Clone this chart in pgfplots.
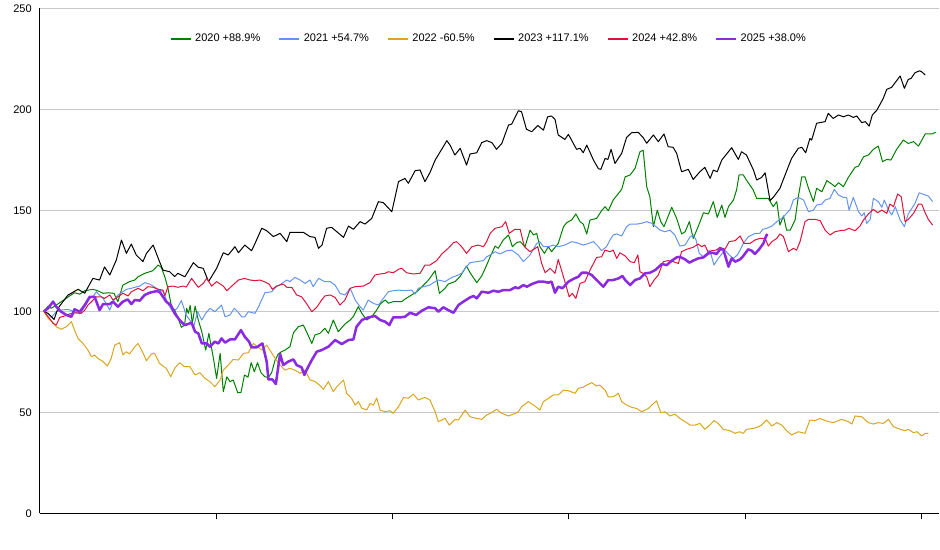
\documentclass[border=0pt]{standalone}
\usepackage{pgfplots}
\pgfplotsset{compat=1.18}
\usepackage{fontspec}
\setmainfont{Liberation Sans}
\definecolor{cA}{RGB}{0,128,0}
\definecolor{cB}{RGB}{100,149,237}
\definecolor{cC}{RGB}{218,165,32}
\definecolor{cD}{RGB}{0,0,0}
\definecolor{cE}{RGB}{220,20,60}
\definecolor{cF}{RGB}{138,43,226}
\definecolor{gridc}{RGB}{200,200,200}
\begin{document}
\begin{tikzpicture}
\useasboundingbox (-30pt,-27.5pt) rectangle (675pt,385pt);
\begin{axis}[
  at={(0,0)}, anchor=south west,
  scale only axis, width=674.2pt, height=378.75pt,
  xmin=0, xmax=255, ymin=0, ymax=250,
  axis x line*=bottom, axis y line*=left,
  axis line style={black, line width=0.75pt, -},
  xtick={50,100,150,200,250}, xticklabels={},
  ytick={0,50,100,150,200,250},
  tick align=outside, major tick length=4.5pt,
  xtick style={black, line width=0.75pt},
  ytick style={draw=none},
  ymajorgrids, grid style={gridc, line width=0.75pt},
  font=\fontsize{8.25pt}{10pt}\selectfont,
  /pgf/number format/assume math mode=true,
  yticklabel style={inner xsep=1.5pt},
  legend columns=6,
  legend style={draw=none, fill=none, at={(0.5,0.94)}, anchor=center,
    font=\fontsize{8.25pt}{10pt}\selectfont,
    /tikz/every even column/.append style={column sep=11pt},
    nodes={inner xsep=2.5pt}},
  legend image code/.code={\draw[#1, line width=1.6pt] (0pt,0pt) -- (15pt,0pt);},
  every axis plot/.append style={no markers, line join=round},
]
\addplot[cA, line width=0.75pt] coordinates {
(1.1,100) (2.3,102.6) (3.2,101.5) (4.6,103.1) (6.5,105.3) (8.4,107.6) (9.8,109.2) (11.3,108.5) (12.7,110.2) (15,110.9) (16.4,110.2) (17.9,108.9) (19.3,109.2) (21,108.9) (22.1,104.8) (23.5,113) (25.4,114.7) (26.9,115.5) (27.8,117.1) (29.7,118.8) (32,120.1) (33.5,122.9) (34.4,121.8) (35.4,117.1) (36.3,111.4) (37.3,102.3) (38.2,100.6) (39.1,97) (40.1,92.1) (41,93.2) (41.6,101.5) (42.1,99) (42.6,103) (43.2,94) (44,102.6) (44.9,95.7) (45.9,89.9) (47,80.8) (47.9,89.1) (49.2,76.7) (50.1,66.8) (51.1,79.2) (52,60.2) (53,67.6) (53.9,65.2) (54.8,66) (56.1,59.7) (57,59.7) (58,68.5) (59,67.4) (59.9,74.6) (60.8,70.1) (61.7,74.6) (62.7,69.6) (63.8,67.6) (64.8,67.3) (65.7,69.6) (66.7,75.9) (67.6,78.9) (68.5,80) (69.5,80.8) (70.9,82.5) (71.9,89.4) (73.3,92.4) (74.7,93.2) (75.6,89.9) (77.1,84.1) (78,88.3) (79.4,89.1) (80.8,91.6) (81.8,89.1) (83.2,95.7) (84.6,89.9) (86.5,93.7) (88,95.7) (88.9,97.5) (90.3,102.3) (91.3,99) (92.7,95.7) (94.1,97.3) (95.5,100.6) (96.5,103.6) (97.9,105.6) (98.8,104) (100.2,104.8) (102.6,104.8) (103.5,106) (105.4,108.1) (106.9,109.7) (108.8,113) (110.2,115.5) (112.1,120.1) (113.3,108.9) (114.9,111.4) (115.8,113.5) (117.7,114.7) (119.2,117.3) (121,122.4) (122,119.1) (123.9,114.2) (125.3,117.5) (126.7,122.9) (127.7,127) (129.1,132.3) (130,131.2) (131.4,135.3) (132.9,137.8) (134,132) (135.2,134) (136.2,134.5) (137.6,132) (139,140.2) (140,137.8) (140.9,138.6) (141.8,132) (143.1,128.7) (144.2,132) (145.1,129.5) (147,133.6) (148.5,141.9) (149.4,143.9) (150.8,145.2) (152,148.2) (153.2,144.4) (154.1,143.2) (155.1,138.3) (156,145.2) (157.9,146) (159.3,149.8) (160.3,151.8) (161.2,149.8) (162.6,155.1) (165,160.4) (166,166.6) (167.4,167.5) (168.8,170.8) (170.2,179) (171.1,179.8) (172.1,161.7) (173,156.7) (174,141.9) (175.1,150.1) (176.1,144.4) (177,141.9) (179.2,151.5) (180.6,146) (182,138.3) (183,139.4) (184.2,144.4) (185.3,136.1) (186.7,141.9) (188.2,148.8) (189.6,148.2) (191,154.3) (192.1,146.5) (193.4,152.6) (194.3,146.5) (195.3,151.8) (196.7,155.1) (197.6,160.1) (198.3,167.5) (199.5,167.5) (200.4,165) (202.3,160.1) (203.3,155.9) (204.7,155.9) (206.6,155.9) (208,151.8) (209,154.3) (209.9,142.7) (210.9,147.2) (211.8,140.2) (212.8,140.2) (214.2,145.2) (215.1,156.7) (216.1,166.6) (217,166.6) (218,160.9) (219.4,154.3) (220.3,160.9) (221.8,159.2) (223.2,164.7) (224.6,163) (225.5,161.7) (226.5,163.7) (227.9,161.7) (229.3,166.3) (231.2,171.3) (232.2,171.9) (233.6,176.5) (235,177.4) (236.4,180.2) (237.8,181.8) (239,174.1) (240.2,175.2) (241.4,174.9) (243,180.2) (244.9,184.8) (246.3,183.1) (247.8,184) (249.2,181.8) (251.1,187.8) (253,187.8) (254.1,188.6)
};
\addlegendentry{2020 +88.9\%}
\addplot[cB, line width=0.75pt] coordinates {
(1.1,100) (2.3,98.7) (3.2,97) (4.6,99.8) (6,100.6) (7.9,101) (9.8,99.8) (11.3,98.7) (12.7,102.3) (14.1,106.4) (15,107.2) (16,109.7) (16.9,108) (17.9,106.4) (19.8,100.6) (20.7,104.8) (22.1,108.1) (23.5,109.7) (24.5,110.9) (25.9,111.4) (26.9,111.9) (28.3,112.5) (29.7,114.2) (31.1,113.5) (32.1,112.5) (33.5,110.9) (35,109.7) (36.3,103.6) (37.7,99.8) (38.9,101.5) (40.1,105.3) (41.5,98) (42.5,95.7) (43.5,91.6) (44.7,99.8) (45.9,95.7) (47,99) (48.2,101.5) (49.6,99.8) (51.5,103.1) (52.5,97.3) (53.9,98.2) (55.1,101.5) (56.1,99.8) (57.2,97.3) (58.1,97.3) (59.1,99.8) (61,99) (62,102.3) (63.8,109.2) (65.7,109.7) (67.1,112.2) (68.6,113.8) (70,115.5) (70.9,114.7) (72.3,116.8) (73.8,115.5) (75.2,113.8) (76.6,115.5) (77.5,112.2) (79,116.3) (80.8,114.7) (82.3,114.7) (83.7,113) (85.1,108.9) (86.5,108.1) (88,111.4) (89.4,105.6) (90.8,102.3) (91.7,100.6) (93.1,105.6) (94.6,103.9) (96,103.1) (97.4,106.4) (98.8,109.7) (100.2,110.2) (101.7,110.5) (103.5,110.2) (105.4,110.5) (106.4,108.5) (107.3,111.4) (108.8,112.2) (110.6,113) (111.6,114.2) (113,115.5) (114.9,114.7) (116.3,116.3) (117.3,117.1) (118.7,118) (119.6,118.8) (121,122.1) (122,124.1) (123.9,124.6) (125.8,125.1) (126.7,127) (127.7,127.9) (129.1,129.5) (130.5,128.4) (132.4,130) (133.8,130.3) (135.7,127.9) (137.1,124.6) (139,127.9) (140.9,133.6) (141.8,134.5) (142.8,132) (144.2,132) (145.6,132.8) (147,132) (148.9,132.8) (150.8,134.5) (152.2,134) (154.1,132.8) (155.6,133.6) (157,134.5) (158.4,132) (159.3,130) (160.7,132) (161.7,135.3) (162.6,137.8) (163.6,138.3) (165,137.3) (166.4,141.9) (167.4,143.2) (169.3,143.2) (170.7,143.6) (172.1,144.4) (173.5,143.6) (174.5,142.2) (175.9,140.2) (177.3,139.4) (178.7,140.2) (180.1,137.8) (181.5,132.3) (183,132.8) (184.4,136.9) (185.3,137.8) (186.1,135.3) (187,128.7) (188.2,127) (189.1,128.7) (190,130.3) (191.2,122.9) (192.4,126.2) (194.3,130.3) (195.5,127.9) (196.7,126.2) (197.8,127.9) (198.6,130.3) (199.5,133.6) (200.9,136.9) (202.8,138.6) (204.2,138.6) (205,140.6) (206.1,141.1) (207.6,142.2) (209,144.4) (210.4,146) (211.8,148.5) (212.8,150.5) (213.7,155.1) (215.1,156.4) (216.6,155.1) (218,149.3) (219.4,150.1) (220.3,152.6) (221.8,153.1) (222.7,155.1) (224.1,155.9) (225.3,160.4) (226.5,157.6) (227.9,156.4) (228.8,156.4) (229.5,150.1) (230.7,156.4) (232.2,149.3) (233.1,147.2) (233.8,148.8) (234.5,143.5) (235.5,145.5) (236.4,155.9) (237.8,154.3) (238.8,151.5) (239.5,155.1) (240.7,150.1) (241.6,147.7) (242.6,151.8) (244,145.2) (245.2,141.9) (246.3,148.2) (248.2,153.4) (249.4,158.7) (251.1,157.6) (252,157.1) (253.2,154.3)
};
\addlegendentry{2021 +54.7\%}
\addplot[cC, line width=0.75pt] coordinates {
(1.1,100) (2.3,96.5) (3.4,94.9) (4.6,92.4) (6,91.1) (7.5,92.4) (8.9,94.9) (9.8,90.7) (10.8,86.6) (12.2,84.1) (13.6,80.8) (14.6,77.5) (15.5,78.4) (16.4,76.7) (17.9,75.1) (19.1,72.9) (20.2,76.7) (21.2,83.3) (22.6,84.5) (23.5,78.4) (24.5,80) (25.4,78.9) (26.9,82.5) (27.8,84.1) (29.2,79.5) (30.2,75.5) (31.6,78.9) (32.5,79.2) (33.9,74.2) (35.8,71.8) (37.1,67.6) (38.2,71.8) (39.6,74.6) (41,72.6) (42.5,72.6) (44,68.5) (45.4,69.6) (46.8,66.8) (48.2,65.2) (49.6,62.7) (51.1,66) (52,70.9) (53.4,73.4) (54.8,76.2) (56.3,75.9) (57.7,79.2) (59.1,79.5) (60.5,84.1) (61.5,82.8) (62.9,80.8) (64.3,83.3) (65.5,80) (66.7,76.7) (68.1,73.4) (69.5,70.9) (70.9,71.8) (72.3,70.9) (73.8,69.3) (75.2,70.9) (76.6,66) (78,65.3) (79.4,63.3) (80.4,61.4) (81.8,65.2) (83.2,60.2) (84.2,62.7) (86.1,66) (87,59.4) (88.4,56.9) (89.4,53.6) (90.3,55.3) (91.3,52) (92.7,51.2) (93.6,54.4) (94.6,53.6) (95.5,57.1) (96.5,51.1) (97.9,50.3) (99.3,50.8) (100.2,49.5) (101.7,52.8) (103.1,57.3) (104.5,57) (105.9,59) (107.3,56.1) (109.2,57.4) (110.6,56.1) (112.1,50.3) (113,45.4) (114.9,47) (116.1,43.7) (117.7,46.5) (118.7,46.2) (120.6,51.1) (122,47.8) (123.9,47) (125.3,46.5) (126.7,48.7) (127.7,49.5) (129.5,51.5) (131,49.5) (132.9,48.2) (134.8,49.5) (135.7,50.3) (136.6,52.8) (138.5,55.3) (140.4,53.1) (141.8,51.1) (142.8,55.3) (144.2,56.9) (145.6,58.6) (147,58.6) (148.5,61) (149.9,60.7) (151.8,59.4) (152.7,61.9) (154.1,62.4) (155.1,63.5) (156.5,64.7) (157.9,63) (158.8,63.5) (160.3,61) (161.2,57.7) (162.6,57.7) (164.1,59.4) (165,55.3) (166.4,53.6) (167.8,52.5) (169.3,51.9) (170.7,50.3) (171.6,51.1) (172.6,51.9) (173.5,53.6) (174.9,55.7) (176.1,49.8) (177.3,50.3) (178.7,48.2) (180.1,49.1) (181.5,47) (183,45.4) (184.4,43.7) (185.8,43.7) (187.2,44.5) (188.6,41.6) (190,43.7) (191.2,45.9) (192.4,44.5) (193.8,41.6) (195.7,40.9) (197.2,39.6) (198.4,40.4) (199.5,39.6) (200.4,41.6) (202.3,42) (203.7,42.8) (204.7,43.7) (206.1,46.2) (207.6,43.2) (209,44.9) (210.4,43.7) (211.8,40.9) (213.2,38.8) (215.1,40.4) (217,39.6) (218.4,46.2) (219.9,45.9) (221.3,47) (222.7,45.9) (225,44.9) (227.4,46.5) (229.3,45.4) (230.3,44.2) (231.2,48.2) (233.1,47.8) (235,44.9) (236.4,44.2) (237.8,44.9) (239.2,44.5) (240.7,46.5) (242.1,42.9) (244,41.6) (245.4,40.9) (246.3,41.6) (247.8,39.9) (248.8,40.4) (250.1,38.3) (251.1,39.6) (252,39.6)
};
\addlegendentry{2022 -60.5\%}
\addplot[cD, line width=0.75pt] coordinates {
(1.1,100) (2.3,99) (4,96) (5.1,101.5) (7.9,108) (10.8,110.9) (12.7,109) (15,116.3) (16.9,115.5) (18.3,122) (19.8,118) (21.65,125.4) (23.1,135.3) (24.5,128.7) (25.9,133.3) (27.3,127.9) (29.2,124.6) (30.2,128.7) (32.1,132.8) (33.9,124.6) (34.9,120.4) (36.8,119.6) (38.2,117.2) (39.1,118.8) (41.1,117.1) (43.5,124.1) (44.9,121.8) (46.3,121.3) (47.8,114.7) (50.1,121.3) (52,129) (53.4,127.9) (55.3,132) (56.3,129) (58.1,132.8) (60,130) (61,133.6) (62.9,141.1) (64.3,139.9) (66.2,137) (68.1,138.6) (70,134.5) (70.9,139.1) (74.7,139.1) (76.6,137) (78,136.6) (79,131.2) (80,132.8) (81.3,141.1) (82.7,141.6) (84.2,139.4) (86.1,136.6) (87.5,142.2) (88.9,140.6) (90.8,144.4) (92.2,143.2) (94.1,146) (96,154.3) (97.4,153.8) (99.8,149.3) (101.7,164.2) (103.5,165.8) (104.5,163.4) (106.4,169.6) (107.8,170) (109.2,164.2) (110.6,168.6) (112.1,174.9) (114.4,181.5) (115.4,184.5) (116.3,182.3) (117.7,177.4) (119.2,180.7) (121,172.4) (122,177.9) (123.9,178.5) (125.3,183.5) (126.7,184.5) (128.2,183.5) (129.5,180.2) (131,183.1) (132.9,192.2) (133.8,192.7) (135.7,199.3) (136.6,198.8) (138,190.1) (139.5,188.9) (141.2,192) (142.8,189.7) (144,196.3) (145.1,196.7) (146.1,195) (147,187.3) (148.9,185.1) (149.9,187.6) (152.2,180.2) (153.2,180.7) (154.1,178.5) (155.1,182.3) (157,174.9) (158.4,170.6) (159.1,170.3) (160.3,175.7) (161.1,175.2) (162,180.2) (163.1,173.2) (165,178.2) (166.4,186.1) (167.8,188.4) (169.7,188.6) (171.1,186) (172.1,183.2) (174,187.3) (175.4,184) (177,187.8) (178.2,181.5) (179.6,181.2) (180.6,178.2) (182,169.1) (183.9,170.3) (185.3,165.3) (187.2,169.1) (188.6,171.3) (190.1,165.8) (191,169.9) (192.1,169.1) (193.4,174.9) (196.2,181) (198.1,175.2) (199,179) (200.4,177.4) (202.4,169.9) (203.3,165) (204.7,166.3) (205.7,168.6) (207.1,154.8) (208,156.4) (209.9,160.9) (211.8,169.5) (213.2,175.7) (215.1,180.7) (216.1,181.2) (217.2,178.5) (218.4,185.6) (218.9,184.8) (220.3,193.1) (222.7,193.9) (223.6,198) (225,195.5) (226.5,197.2) (227.9,196.3) (229.3,197.2) (230.7,196) (231.7,196.7) (233.1,193.4) (234.1,193.9) (235.2,191.7) (236.1,197.2) (237.4,199.6) (239.2,205.4) (240.2,209.9) (241.6,210.9) (244,216.5) (245.2,210.4) (246.3,214.8) (247.1,215.3) (248.2,218.1) (249.5,219.1) (250.1,218.6) (251.1,217)
};
\addlegendentry{2023 +117.1\%}
\addplot[cE, line width=0.75pt] coordinates {
(1.1,100) (2.3,97.4) (3.7,94.1) (4.6,93.2) (5.6,97) (7,97.7) (8.4,98.7) (10.3,99.3) (11.7,99) (12.7,100.6) (13.6,103.1) (14.6,104.8) (16,107.2) (17.4,107.2) (18.3,106.4) (19.8,108.1) (20.7,105.6) (22.1,107.2) (23.5,108.9) (25,107.6) (25.9,109.7) (27.8,111.4) (29.2,110.2) (30.6,112.2) (32.1,111.9) (33.5,110.9) (34.9,110.5) (35.4,107.6) (36.3,112.2) (37.7,112.5) (39.1,111.9) (40.6,112.5) (41.5,112) (43,116.3) (44.9,111.9) (46.3,113.8) (47.3,116.3) (48.7,112.5) (50.1,114.7) (52,112.5) (53,110.2) (54.4,112.5) (56.3,115.5) (58,116.3) (59.6,115.5) (61,115.2) (62.4,115.5) (63.6,114.7) (65,113.5) (65.9,110.9) (67.1,112.5) (69,113.5) (70,111.9) (71.4,111.9) (72.8,108.1) (74.2,107.2) (75.6,103.9) (77.1,99.8) (78.5,102) (79.9,105.6) (80.8,107.6) (82.3,108.1) (83.7,106.9) (85.1,103.1) (86.5,105.6) (88,111.4) (89.4,112.2) (91.7,112.5) (93.6,114.2) (95,118) (96.5,118.5) (97.9,118.8) (98.8,119.6) (100.2,119.1) (101.7,120.8) (102.6,121.3) (104,119.1) (105.9,118.5) (107.8,118.8) (109.2,122.9) (110.6,122.9) (112.5,125.1) (114,128.4) (115.8,131.2) (117.3,134) (118.2,134.5) (119.6,132) (121,128.7) (122.5,132) (124.3,132.8) (125.8,132) (126.7,134.5) (127.7,138.6) (129.1,141.1) (131,141.9) (132.1,144.4) (133.1,138.6) (134.7,140.6) (136.2,140.6) (137.4,132) (139,129.5) (141.2,132) (142.3,123.7) (143.3,119.1) (144.7,121.3) (146.1,118.8) (147,125.7) (148.2,118.8) (148.9,114.7) (150.1,107.2) (151,108.9) (152,106.4) (153.2,113.8) (154.6,114.7) (155.6,118.8) (156.5,122) (157.9,126.7) (159.3,127) (160.3,130.3) (161.7,129.5) (162.6,130.3) (163.6,126.2) (164.5,129) (166,127.4) (167.4,124.6) (168.6,124.1) (169.6,127.9) (170.2,119.6) (171.1,118.8) (172.1,117.1) (173,112.2) (174.2,115.5) (175.4,118) (176.8,124.6) (178.2,125.1) (179.6,124.6) (181.1,123.7) (182,129.5) (183.4,130.7) (185.3,131.7) (186.7,133.3) (187.7,132) (188.6,132.8) (189.6,129) (190.5,130) (191.8,130.3) (192.9,131.7) (194.3,130.7) (195.5,134.5) (197.2,135) (198.6,137.3) (199.7,133.6) (201.4,133.6) (202.8,135.3) (204.2,136.1) (205.7,136.1) (206.6,132.3) (207.6,134.5) (209,136.1) (209.9,138.3) (210.9,137) (212.3,129.5) (213.7,131.2) (214.6,130.3) (215.6,134.5) (217,144.4) (218,145.5) (219.9,145.5) (221.3,144.9) (222.7,140.2) (224.1,137.8) (225.5,139.4) (226.9,139.9) (228.4,140.2) (229.5,141.1) (231.2,139.9) (232.6,142.2) (233.6,145.2) (235,148.2) (236.4,150.5) (237.6,148.8) (238.8,150.1) (240.2,148.5) (241.1,153.1) (242.1,151.8) (243.3,158.1) (244.3,156.7) (245.4,144.4) (246.3,145.5) (247.8,148.5) (249.2,153.1) (250.1,153.1) (251.1,148.8) (252,145.5) (253.2,142.7)
};
\addlegendentry{2024 +42.8\%}
\addplot[cF, line width=1.9pt] coordinates {
(1.1,100) (2.3,101.5) (3.7,104.8) (4.6,102.3) (6,99.8) (7.5,98.2) (8.9,97.3) (9.8,101) (11.3,99.8) (12.7,103.1) (14.1,107.2) (15.5,107.2) (16.9,100.6) (17.9,103.6) (19.8,103.6) (20.7,104.8) (22.1,102.3) (23.5,104.8) (24.9,105.9) (25.9,103.6) (26.9,105.6) (28.3,105.3) (29.7,108.1) (31.1,109.2) (33,110) (33.9,109.7) (34.9,107.2) (35.8,104.8) (37.1,103.1) (38.2,99) (39.6,95.7) (41,93.2) (42,93.7) (43,94.4) (44,89.9) (44.9,89.1) (45.9,84.1) (47.3,84.1) (48.2,82.5) (49.6,85) (50.6,84.1) (51.5,86.6) (52.5,84.5) (53.9,86.1) (55.3,86.1) (56.3,88.8) (57,90.7) (58.1,87.4) (59.3,85) (60,82.2) (61.5,82.2) (62.4,83.3) (63.1,84.1) (64.3,75.1) (64.8,66.3) (65.9,66.3) (66.9,64) (68.1,78.9) (69,73.4) (70.4,75.1) (71.9,76.2) (72.8,73.4) (74.2,72.3) (75,68.5) (75.6,70.9) (77.1,75.9) (78.5,80) (79.9,80.8) (81.8,82.5) (83.7,85.8) (85.6,83.8) (87.5,85.8) (88.9,86.1) (89.8,92.4) (91.3,95.7) (93.1,97) (95,97.7) (96.5,95.7) (97.9,94.9) (99.1,93.2) (100.2,97) (102.1,97) (103.5,97.3) (105,99.3) (106.7,98.2) (108.3,100.3) (110.2,102) (112.1,101.5) (113,99.8) (114.4,102) (115.8,100.6) (117.3,99.3) (118.7,103.1) (120.1,104.8) (122,106.9) (123,107.6) (123.9,106.4) (125.3,109.7) (126.2,109.5) (127.2,109.2) (128.6,110.2) (130,109.7) (131.4,110.5) (133.3,110.5) (134.8,111.9) (135.7,111.4) (137.1,113) (138.1,112.2) (139.5,113.5) (141.4,114.7) (142.8,114.7) (144.2,114.2) (145.1,114.7) (146.1,109.2) (147,112.2) (148.2,111.4) (149.9,114.7) (151.6,116.3) (152.7,117.1) (153.7,119.1) (155.1,119.1) (156.5,118) (157.9,115.5) (159.8,112.2) (161.2,115.5) (162.6,115.5) (164.1,116.3) (165.2,117.5) (166,115.5) (167.4,113) (168.8,115.5) (170.2,116.3) (171.6,118.8) (173,119.1) (174.5,120.4) (176.4,123.4) (177.8,122.9) (179.2,125.1) (180.6,126.7) (181.5,127) (183,125.7) (184.2,124.1) (185.3,125.1) (186.7,126.2) (188.2,126.7) (189.6,128.7) (190.8,129) (191.9,128.4) (192.9,130.7) (193.8,130.7) (194.6,126.2) (195.3,122.1) (196.2,126.2) (197.2,124.6) (198.6,125.7) (199.5,127.4) (200.9,130.7) (201.9,130) (202.8,128.4) (204,130.7) (205.2,133.6) (205.9,136.9) (206.3,138.3)
};
\addlegendentry{2025 +38.0\%}
\end{axis}
\end{tikzpicture}
\end{document}
